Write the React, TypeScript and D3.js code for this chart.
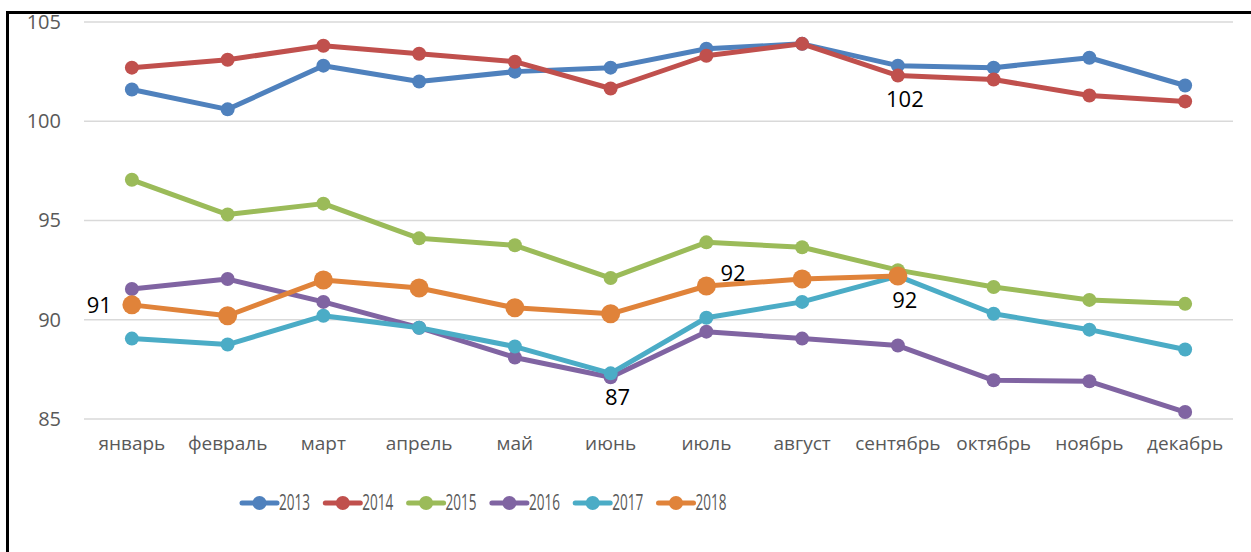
import React, { useRef, useEffect } from "react";
import * as d3 from "d3";

const WIDTH = 1251;
const HEIGHT = 552;
const MARGIN = { top: 22, right: 18, bottom: 133, left: 84 };
const FONT = "'Open Sans', 'Noto Sans', sans-serif";
const TEXT_COLOR = "#595959";
const GRID_COLOR = "#d9d9d9";

const MONTHS = [
  "январь", "февраль", "март", "апрель", "май", "июнь",
  "июль", "август", "сентябрь", "октябрь", "ноябрь", "декабрь",
];
const Y_TICKS = [85, 90, 95, 100, 105];

const SERIES_NAMES = ["2013", "2014", "2015", "2016", "2017", "2018"];
const SERIES_COLORS = ["#4f81bd", "#c0504d", "#9bbb59", "#8064a2", "#4bacc6", "#e0833a"];

const V2013 = [101.6, 100.6, 102.8, 102.0, 102.5, 102.7, 103.65, 103.9, 102.8, 102.7, 103.2, 101.8];
const V2014 = [102.7, 103.1, 103.8, 103.4, 103.0, 101.65, 103.3, 103.9, 102.3, 102.1, 101.3, 101.0];
const V2015 = [97.05, 95.3, 95.85, 94.1, 93.75, 92.1, 93.9, 93.65, 92.5, 91.65, 91.0, 90.8];
const V2016 = [91.55, 92.05, 90.9, 89.6, 88.1, 87.1, 89.4, 89.05, 88.7, 86.95, 86.9, 85.35];
const V2017 = [89.05, 88.75, 90.2, 89.6, 88.65, 87.3, 90.1, 90.9, 92.2, 90.3, 89.5, 88.5];
const V2018 = [90.75, 90.2, 92.0, 91.6, 90.6, 90.3, 91.7, 92.05, 92.2];

const SERIES_VALUES = [V2013, V2014, V2015, V2016, V2017, V2018];

// data labels shown on the chart: series index, month index, text, placement
const DATA_LABELS = [
  { s: 5, m: 0, text: "91", pos: "left" },
  { s: 1, m: 8, text: "102", pos: "below" },
  { s: 4, m: 5, text: "87", pos: "below" },
  { s: 5, m: 6, text: "92", pos: "right" },
  { s: 4, m: 8, text: "92", pos: "below" },
];

export default function App() {
  const svgRef = useRef<SVGSVGElement | null>(null);

  useEffect(() => {
    const svg = d3.select(svgRef.current);
    svg.selectAll("*").remove();

    const innerWidth = WIDTH - MARGIN.left - MARGIN.right;

    // outer frame (only left and top edges visible in the crop)
    svg.append("line")
      .attr("x1", 7.5).attr("x2", 7.5).attr("y1", 11).attr("y2", HEIGHT)
      .attr("stroke", "#000").attr("stroke-width", 3);
    svg.append("line")
      .attr("x1", 6).attr("x2", WIDTH).attr("y1", 12.5).attr("y2", 12.5)
      .attr("stroke", "#000").attr("stroke-width", 3);

    const g = svg.append("g")
      .attr("transform", `translate(${MARGIN.left},${MARGIN.top})`);

    const x = d3.scaleBand<string>().domain(MONTHS).range([0, innerWidth]);
    const y = d3.scaleLinear().domain([85, 105]).range([397, 0]);
    const cx = (i: number) => (x(MONTHS[i]) as number) + x.bandwidth() / 2;

    // grid lines
    Y_TICKS.forEach((t) => {
      g.append("line")
        .attr("x1", 0).attr("x2", innerWidth)
        .attr("y1", y(t)).attr("y2", y(t))
        .attr("stroke", GRID_COLOR).attr("stroke-width", 1.5);
    });

    // y axis
    const yAxis = g.append("g")
      .call(d3.axisLeft(y).tickValues(Y_TICKS).tickSize(0).tickPadding(23));
    yAxis.select(".domain").remove();
    yAxis.selectAll("text")
      .attr("font-size", 20).attr("font-family", FONT).attr("fill", TEXT_COLOR);

    // x axis
    const xAxis = g.append("g")
      .attr("transform", `translate(0,${y(85)})`)
      .call(d3.axisBottom(x).tickSize(0).tickPadding(18));
    xAxis.select(".domain").remove();
    xAxis.selectAll("text")
      .attr("font-size", 19).attr("font-family", FONT).attr("fill", TEXT_COLOR);

    const line = d3.line<number>()
      .x((_, i) => cx(i))
      .y((d) => y(d));

    SERIES_VALUES.forEach((vals, s) => {
      const color = SERIES_COLORS[s];
      const r = s === 5 ? 9.5 : 7;
      g.append("path")
        .datum(vals)
        .attr("d", line)
        .attr("fill", "none")
        .attr("stroke", color)
        .attr("stroke-width", 5)
        .attr("stroke-linejoin", "round");
      g.selectAll(null)
        .data(vals)
        .enter()
        .append("circle")
        .attr("cx", (_, i) => cx(i))
        .attr("cy", (d) => y(d))
        .attr("r", r)
        .attr("fill", color);
    });

    // data labels
    DATA_LABELS.forEach((l) => {
      const px = cx(l.m);
      const py = y(SERIES_VALUES[l.s][l.m]);
      let tx = px, ty = py, anchor = "middle";
      if (l.pos === "below") { tx = px + 7; ty = py + 24; }
      if (l.pos === "left") { tx = px - 20; ty = py; anchor = "end"; }
      if (l.pos === "right") { tx = px + 14; ty = py - 13; anchor = "start"; }
      g.append("text")
        .attr("x", tx).attr("y", ty)
        .attr("dy", "0.35em")
        .attr("text-anchor", anchor)
        .attr("font-size", 22)
        .attr("font-family", FONT)
        .attr("fill", "#000")
        .text(l.text);
    });

    // legend
    const legend = svg.append("g").attr("transform", "translate(242,503)");
    SERIES_NAMES.forEach((name, i) => {
      const item = legend.append("g").attr("transform", `translate(${i * 83.3},0)`);
      item.append("line")
        .attr("x1", 0).attr("x2", 35).attr("y1", 0).attr("y2", 0)
        .attr("stroke", SERIES_COLORS[i]).attr("stroke-width", 5)
        .attr("stroke-linecap", "round");
      item.append("circle")
        .attr("cx", 17.5).attr("cy", 0).attr("r", 7)
        .attr("fill", SERIES_COLORS[i]);
      item.append("text")
        .attr("x", 37).attr("y", 0).attr("dy", "0.35em")
        .attr("font-size", 21).attr("font-family", FONT)
        .attr("fill", TEXT_COLOR)
        .attr("textLength", 31)
        .attr("lengthAdjust", "spacingAndGlyphs")
        .text(name);
    });
  }, []);

  return (
    <svg
      ref={svgRef}
      width={WIDTH}
      height={HEIGHT}
      style={{ position: "absolute", left: 0, top: 0, background: "#fff" }}
    />
  );
}
